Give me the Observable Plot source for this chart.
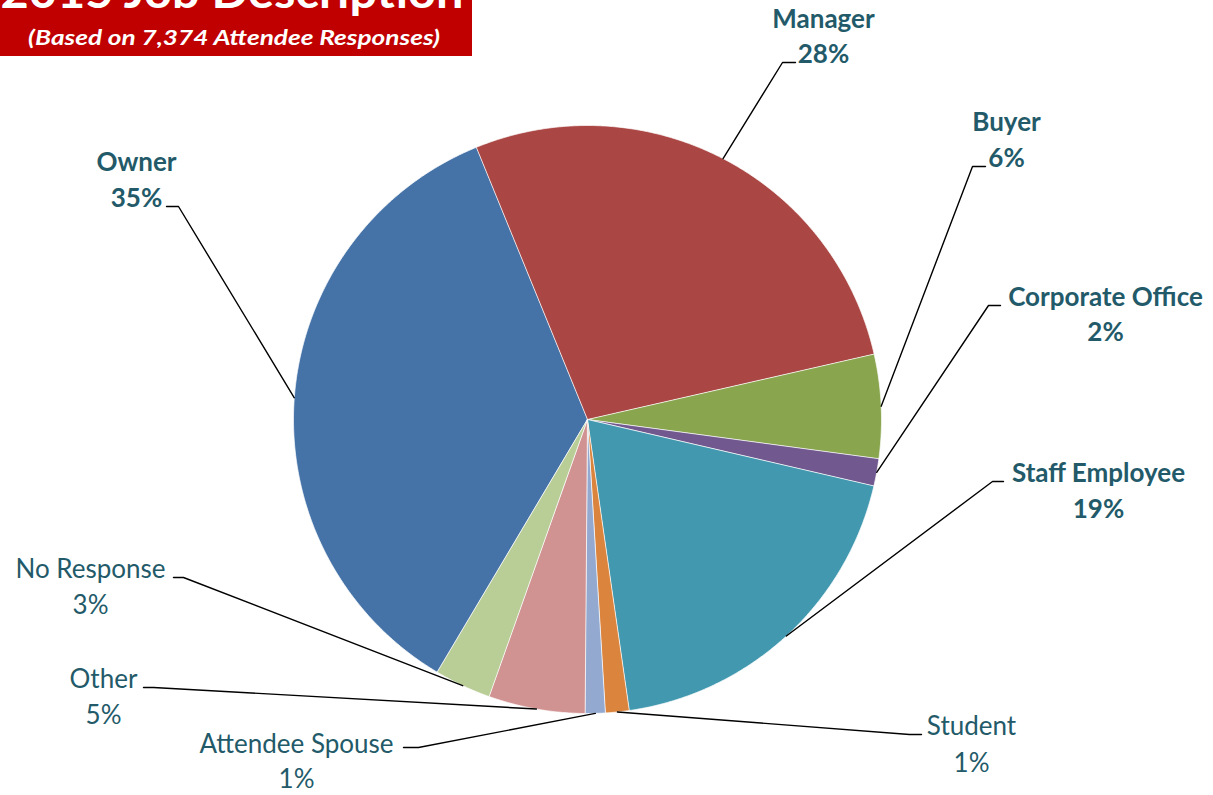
<!DOCTYPE html>
<html><head><meta charset="utf-8">
<script src="https://cdn.jsdelivr.net/npm/d3@7"></script>
<script src="https://cdn.jsdelivr.net/npm/@observablehq/plot@0.6"></script>
<style>
body{margin:0;background:#fff;overflow:hidden}
#wrap{position:relative;width:1213px;height:795px}
#title{position:absolute;left:0;top:0;width:472px;height:56px;background:#C00000}
#title svg{display:block}
</style></head><body>
<div id="wrap"><div id="chart"></div>
<div id="title"><svg width="472" height="56">
<text x="232" y="8" text-anchor="middle" font-family="Lato" font-weight="bold" font-size="46" fill="#fff" textLength="463" lengthAdjust="spacingAndGlyphs">2015 Job Description</text>
<text x="234" y="45" text-anchor="middle" font-family="Lato" font-weight="bold" font-style="italic" font-size="21" fill="#fff" textLength="412" lengthAdjust="spacingAndGlyphs">(Based on 7,374 Attendee Responses)</text>
</svg></div></div>
<script>
// ---- data ----
const categories = ["Owner","Manager","Buyer","Corporate Office","Staff Employee","Student","Attendee Spouse","Other","No Response"];
const shares = [35.3, 27.6, 5.7, 1.5, 19.1, 1.3, 1.1, 5.3, 3.1];
const colors = ["#4572A7","#AA4643","#89A54E","#71588F","#4198AF","#DB843D","#93A9CF","#D19392","#B9CD96"];
const boldLabel = [true, true, true, true, true, false, false, false, false];

// ---- layout (label placement, pixel units) ----
const labelX   = [136, 823, 1006, 1105, 1098, 971, 296, 103, 90];
const nameBase = [170, 27, 130, 305, 481, 734, 752, 687, 577];
const pctBase  = [206, 62, 166, 340, 517, 771, 787, 723, 613];
const stubX    = [166, 795, 985, 1000, 1003, 921, 403, 143, 173];
const elbowX   = [178, 782, 972, 988, 992, 909, 418, 153, 183];
const elbowY   = [206, 62, 166, 305, 481, 734, 747, 687, 577];
const cx = 587, cy = 419, R = 294, startDeg = 210.7;

const W = 1213, H = 795;
const a0 = startDeg * Math.PI / 180;
const arcs = d3.pie().sort(null).startAngle(a0).endAngle(a0 + 2 * Math.PI)(shares);

const wedgePts = [];
const leaderPts = [];
const labels = [];
arcs.forEach((a, i) => {
  const name = categories[i];
  wedgePts.push({name, x: cx, y: cy});
  const n = Math.max(2, Math.ceil((a.endAngle - a.startAngle) / (0.4 * Math.PI / 180)));
  for (let k = 0; k <= n; k++) {
    const t = a.startAngle + (a.endAngle - a.startAngle) * k / n;
    wedgePts.push({name, x: cx + R * Math.sin(t), y: cy - R * Math.cos(t)});
  }
  const m = (a.startAngle + a.endAngle) / 2;
  leaderPts.push({name, x: stubX[i], y: elbowY[i]});
  leaderPts.push({name, x: elbowX[i], y: elbowY[i]});
  leaderPts.push({name, x: cx + R * Math.sin(m), y: cy - R * Math.cos(m)});
  labels.push({name, x: labelX[i], ny: nameBase[i], py: pctBase[i], pct: Math.round(shares[i]) + "%", bold: boldLabel[i]});
});

const txtColor = "#235A69";
const fs = 26;
const chart = Plot.plot({
  width: W, height: H, margin: 0,
  x: {domain: [0, W], range: [0, W], axis: null},
  y: {domain: [0, H], range: [0, H], axis: null},
  color: {domain: categories, range: colors},
  style: {fontFamily: "Lato", background: "#fff"},
  marks: [
    Plot.line(wedgePts, {x: "x", y: "y", z: "name", fill: "name", stroke: "white", strokeWidth: 0.7, curve: "linear-closed"}),
    Plot.line(leaderPts, {x: "x", y: "y", z: "name", stroke: "black", strokeWidth: 1.4}),
    Plot.text(labels.filter(d => d.bold), {x: "x", y: "ny", text: "name", fontWeight: "bold", fontSize: fs, fill: txtColor, dy: -8}),
    Plot.text(labels.filter(d => d.bold), {x: "x", y: "py", text: "pct", fontWeight: "bold", fontSize: fs, fill: txtColor, dy: -8}),
    Plot.text(labels.filter(d => !d.bold), {x: "x", y: "ny", text: "name", fontSize: fs, fill: txtColor, dy: -8}),
    Plot.text(labels.filter(d => !d.bold), {x: "x", y: "py", text: "pct", fontSize: fs, fill: txtColor, dy: -8})
  ]
});
document.getElementById("chart").appendChild(chart);
</script>
</body></html>
